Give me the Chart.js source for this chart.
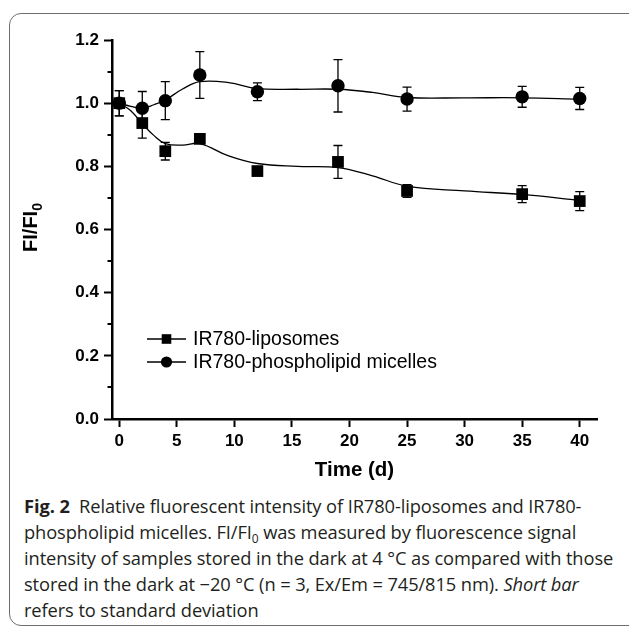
<!DOCTYPE html>
<html><head><meta charset="utf-8">
<script src="https://cdn.jsdelivr.net/npm/chart.js@4.4.1/dist/chart.umd.min.js"></script>
<style>
html,body{margin:0;padding:0;background:#fff;width:629px;height:630px;overflow:hidden;position:relative}
#frame{position:absolute;left:9px;top:13px;width:640px;height:613px;border:1px solid #6d6e71;border-radius:12px;box-sizing:border-box}
#wrap{position:absolute;left:0;top:0;width:629px;height:490px}
#cap{position:absolute;left:24px;top:493px;font-family:"Open Sans";font-size:18.3px;line-height:26px;color:#231f20;white-space:nowrap;letter-spacing:-0.1px}
#cap sub{font-size:12px;line-height:0;vertical-align:-4px}
</style></head><body>
<div id="frame"></div>
<div id="wrap"><canvas id="c" width="629" height="490"></canvas></div>
<div id="cap">
<div><b>Fig. 2</b>&nbsp; Relative fluorescent intensity of IR780-liposomes and IR780-</div>
<div>phospholipid micelles. FI/FI<sub>0</sub> was measured by fluorescence signal</div>
<div>intensity of samples stored in the dark at 4 °C as compared with those</div>
<div>stored in the dark at −20 °C (n = 3, Ex/Em = 745/815 nm). <i>Short bar</i></div>
<div>refers to standard deviation</div>
</div>
<script>
// ---- data ----
const days = [0, 2, 4, 7, 12, 19, 25, 35, 40];
const liposomes   = [1.000, 0.937, 0.848, 0.887, 0.785, 0.814, 0.722, 0.712, 0.690];
const liposomesSD = [0.040, 0.048, 0.028, 0.010, 0.010, 0.052, 0.020, 0.027, 0.030];
const micelles    = [1.000, 0.984, 1.008, 1.089, 1.036, 1.055, 1.013, 1.020, 1.015];
const micellesSD  = [0.040, 0.053, 0.060, 0.074, 0.028, 0.083, 0.038, 0.033, 0.035];
// smoothed curves as drawn in the figure
const fitDays      = [0, 1, 2, 3, 4, 5.5, 7, 9.5, 12, 15.5, 19, 22, 25, 30, 35, 40];
const liposomesFit = [1.000, 0.976, 0.935, 0.898, 0.872, 0.867, 0.872, 0.833, 0.809, 0.800, 0.796, 0.770, 0.737, 0.722, 0.711, 0.692];
const micellesFit  = [1.000, 0.990, 0.984, 0.995, 1.010, 1.045, 1.068, 1.065, 1.046, 1.044, 1.044, 1.034, 1.018, 1.017, 1.017, 1.013];
const xTicks = [0, 5, 10, 15, 20, 25, 30, 35, 40];
const yTicks = [0, 0.2, 0.4, 0.6, 0.8, 1.0, 1.2];
const yMinorTicks = [0.1, 0.3, 0.5, 0.7, 0.9, 1.1];
const seriesNames = ['IR780-liposomes', 'IR780-phospholipid micelles'];
const xTitle = 'Time (d)';
const yTitleMain = 'FI/FI';
const yTitleSub = '0';

const FONT = '"Liberation Sans", Arial, sans-serif';
const pts = (xs, ys) => xs.map((x, i) => ({x: x, y: ys[i]}));

const errorBars = {
  id: 'errorBars',
  beforeDatasetsDraw(chart) {
    const ctx = chart.ctx, xs = chart.scales.x, ys = chart.scales.y;
    ctx.save();
    ctx.strokeStyle = '#000';
    ctx.lineWidth = 1.3;
    chart.data.datasets.forEach(ds => {
      if (!ds.sd) return;
      ds.data.forEach((p, i) => {
        const px = xs.getPixelForValue(p.x);
        const y1 = ys.getPixelForValue(p.y + ds.sd[i]);
        const y2 = ys.getPixelForValue(p.y - ds.sd[i]);
        ctx.beginPath();
        ctx.moveTo(px, y1); ctx.lineTo(px, y2);
        ctx.moveTo(px - 4.5, y1); ctx.lineTo(px + 4.5, y1);
        ctx.moveTo(px - 4.5, y2); ctx.lineTo(px + 4.5, y2);
        ctx.stroke();
      });
    });
    ctx.restore();
  }
};

const extras = {
  id: 'extras',
  afterDraw(chart) {
    const ctx = chart.ctx, ys = chart.scales.y, area = chart.chartArea;
    ctx.save();
    // minor y ticks
    ctx.strokeStyle = '#000';
    ctx.lineWidth = 2;
    yMinorTicks.forEach(v => {
      const py = Math.round(ys.getPixelForValue(v));
      ctx.beginPath();
      ctx.moveTo(area.left - 4.5, py); ctx.lineTo(area.left, py);
      ctx.stroke();
    });
    // y axis title with subscript
    ctx.fillStyle = '#000';
    ctx.translate(37, (area.top + area.bottom) / 2 - 2);
    ctx.rotate(-Math.PI / 2);
    ctx.font = 'bold 20px ' + FONT;
    const w1 = ctx.measureText(yTitleMain).width;
    ctx.font = 'bold 14px ' + FONT;
    const w2 = ctx.measureText(yTitleSub).width;
    const start = -(w1 + w2) / 2;
    ctx.textBaseline = 'alphabetic';
    ctx.textAlign = 'left';
    ctx.font = 'bold 20px ' + FONT;
    ctx.fillText(yTitleMain, start, 0);
    ctx.font = 'bold 14px ' + FONT;
    ctx.fillText(yTitleSub, start + w1, 5);
    ctx.restore();

    // legend
    ctx.save();
    const legendStyles = ['rect', 'circle'];
    legendStyles.forEach((st, i) => {
      const y = 339 + i * 23;
      ctx.strokeStyle = '#000';
      ctx.lineWidth = 1.3;
      ctx.beginPath();
      ctx.moveTo(147, y); ctx.lineTo(186, y);
      ctx.stroke();
      ctx.fillStyle = '#000';
      if (st === 'rect') {
        ctx.fillRect(166.5 - 4.8, y - 4.8, 9.6, 9.6);
      } else {
        ctx.beginPath(); ctx.arc(166.5, y, 5.6, 0, Math.PI * 2); ctx.fill();
      }
      ctx.font = '19.5px ' + FONT;
      ctx.textBaseline = 'middle';
      ctx.textAlign = 'left';
      ctx.fillText(seriesNames[i], 193, y + 1);
    });
    ctx.restore();
  }
};

const axisCommon = {
  grid: {display: true, drawOnChartArea: false, drawTicks: true, tickLength: 8, tickWidth: 2, tickColor: '#000'},
  border: {display: true, color: '#000', width: 2.5}
};

new Chart(document.getElementById('c'), {
  type: 'scatter',
  data: {
    datasets: [
      {label: seriesNames[0] + ' fit', data: pts(fitDays, liposomesFit), showLine: true, borderColor: '#000', borderWidth: 1.3, pointRadius: 0, tension: 0.4, fill: false},
      {label: seriesNames[1] + ' fit', data: pts(fitDays, micellesFit), showLine: true, borderColor: '#000', borderWidth: 1.3, pointRadius: 0, tension: 0.4, fill: false},
      {label: seriesNames[0], data: pts(days, liposomes), sd: liposomesSD, showLine: false, pointStyle: 'rect', pointRadius: 8.3, pointBackgroundColor: '#000', pointBorderColor: '#000', pointBorderWidth: 0},
      {label: seriesNames[1], data: pts(days, micelles), sd: micellesSD, showLine: false, pointStyle: 'circle', pointRadius: 6.7, pointBackgroundColor: '#000', pointBorderColor: '#000', pointBorderWidth: 0}
    ]
  },
  options: {
    responsive: false,
    animation: false,
    events: [],
    layout: {padding: {left: 0, top: 40, right: 32, bottom: 0}},
    plugins: {legend: {display: false}, tooltip: {enabled: false}},
    scales: {
      x: Object.assign({
        type: 'linear', min: -0.63, max: 41.5,
        afterBuildTicks: s => { s.ticks = xTicks.map(v => ({value: v})); },
        afterFit: s => { s.height = 71; },
        ticks: {color: '#000', font: {family: FONT, size: 17, weight: 'bold'}, padding: 4, maxRotation: 0},
        title: {display: true, text: xTitle, color: '#000', font: {family: FONT, size: 20.5, weight: 'bold'}, padding: {top: 0, bottom: 7}}
      }, axisCommon),
      y: Object.assign({
        type: 'linear', min: 0, max: 1.2,
        afterBuildTicks: s => { s.ticks = yTicks.map(v => ({value: v})); },
        afterFit: s => { s.width = 112; },
        ticks: {color: '#000', font: {family: FONT, size: 17, weight: 'bold'}, padding: 5, callback: v => Number(v).toFixed(1)}
      }, axisCommon)
    }
  },
  plugins: [errorBars, extras]
});
</script>
</body></html>
